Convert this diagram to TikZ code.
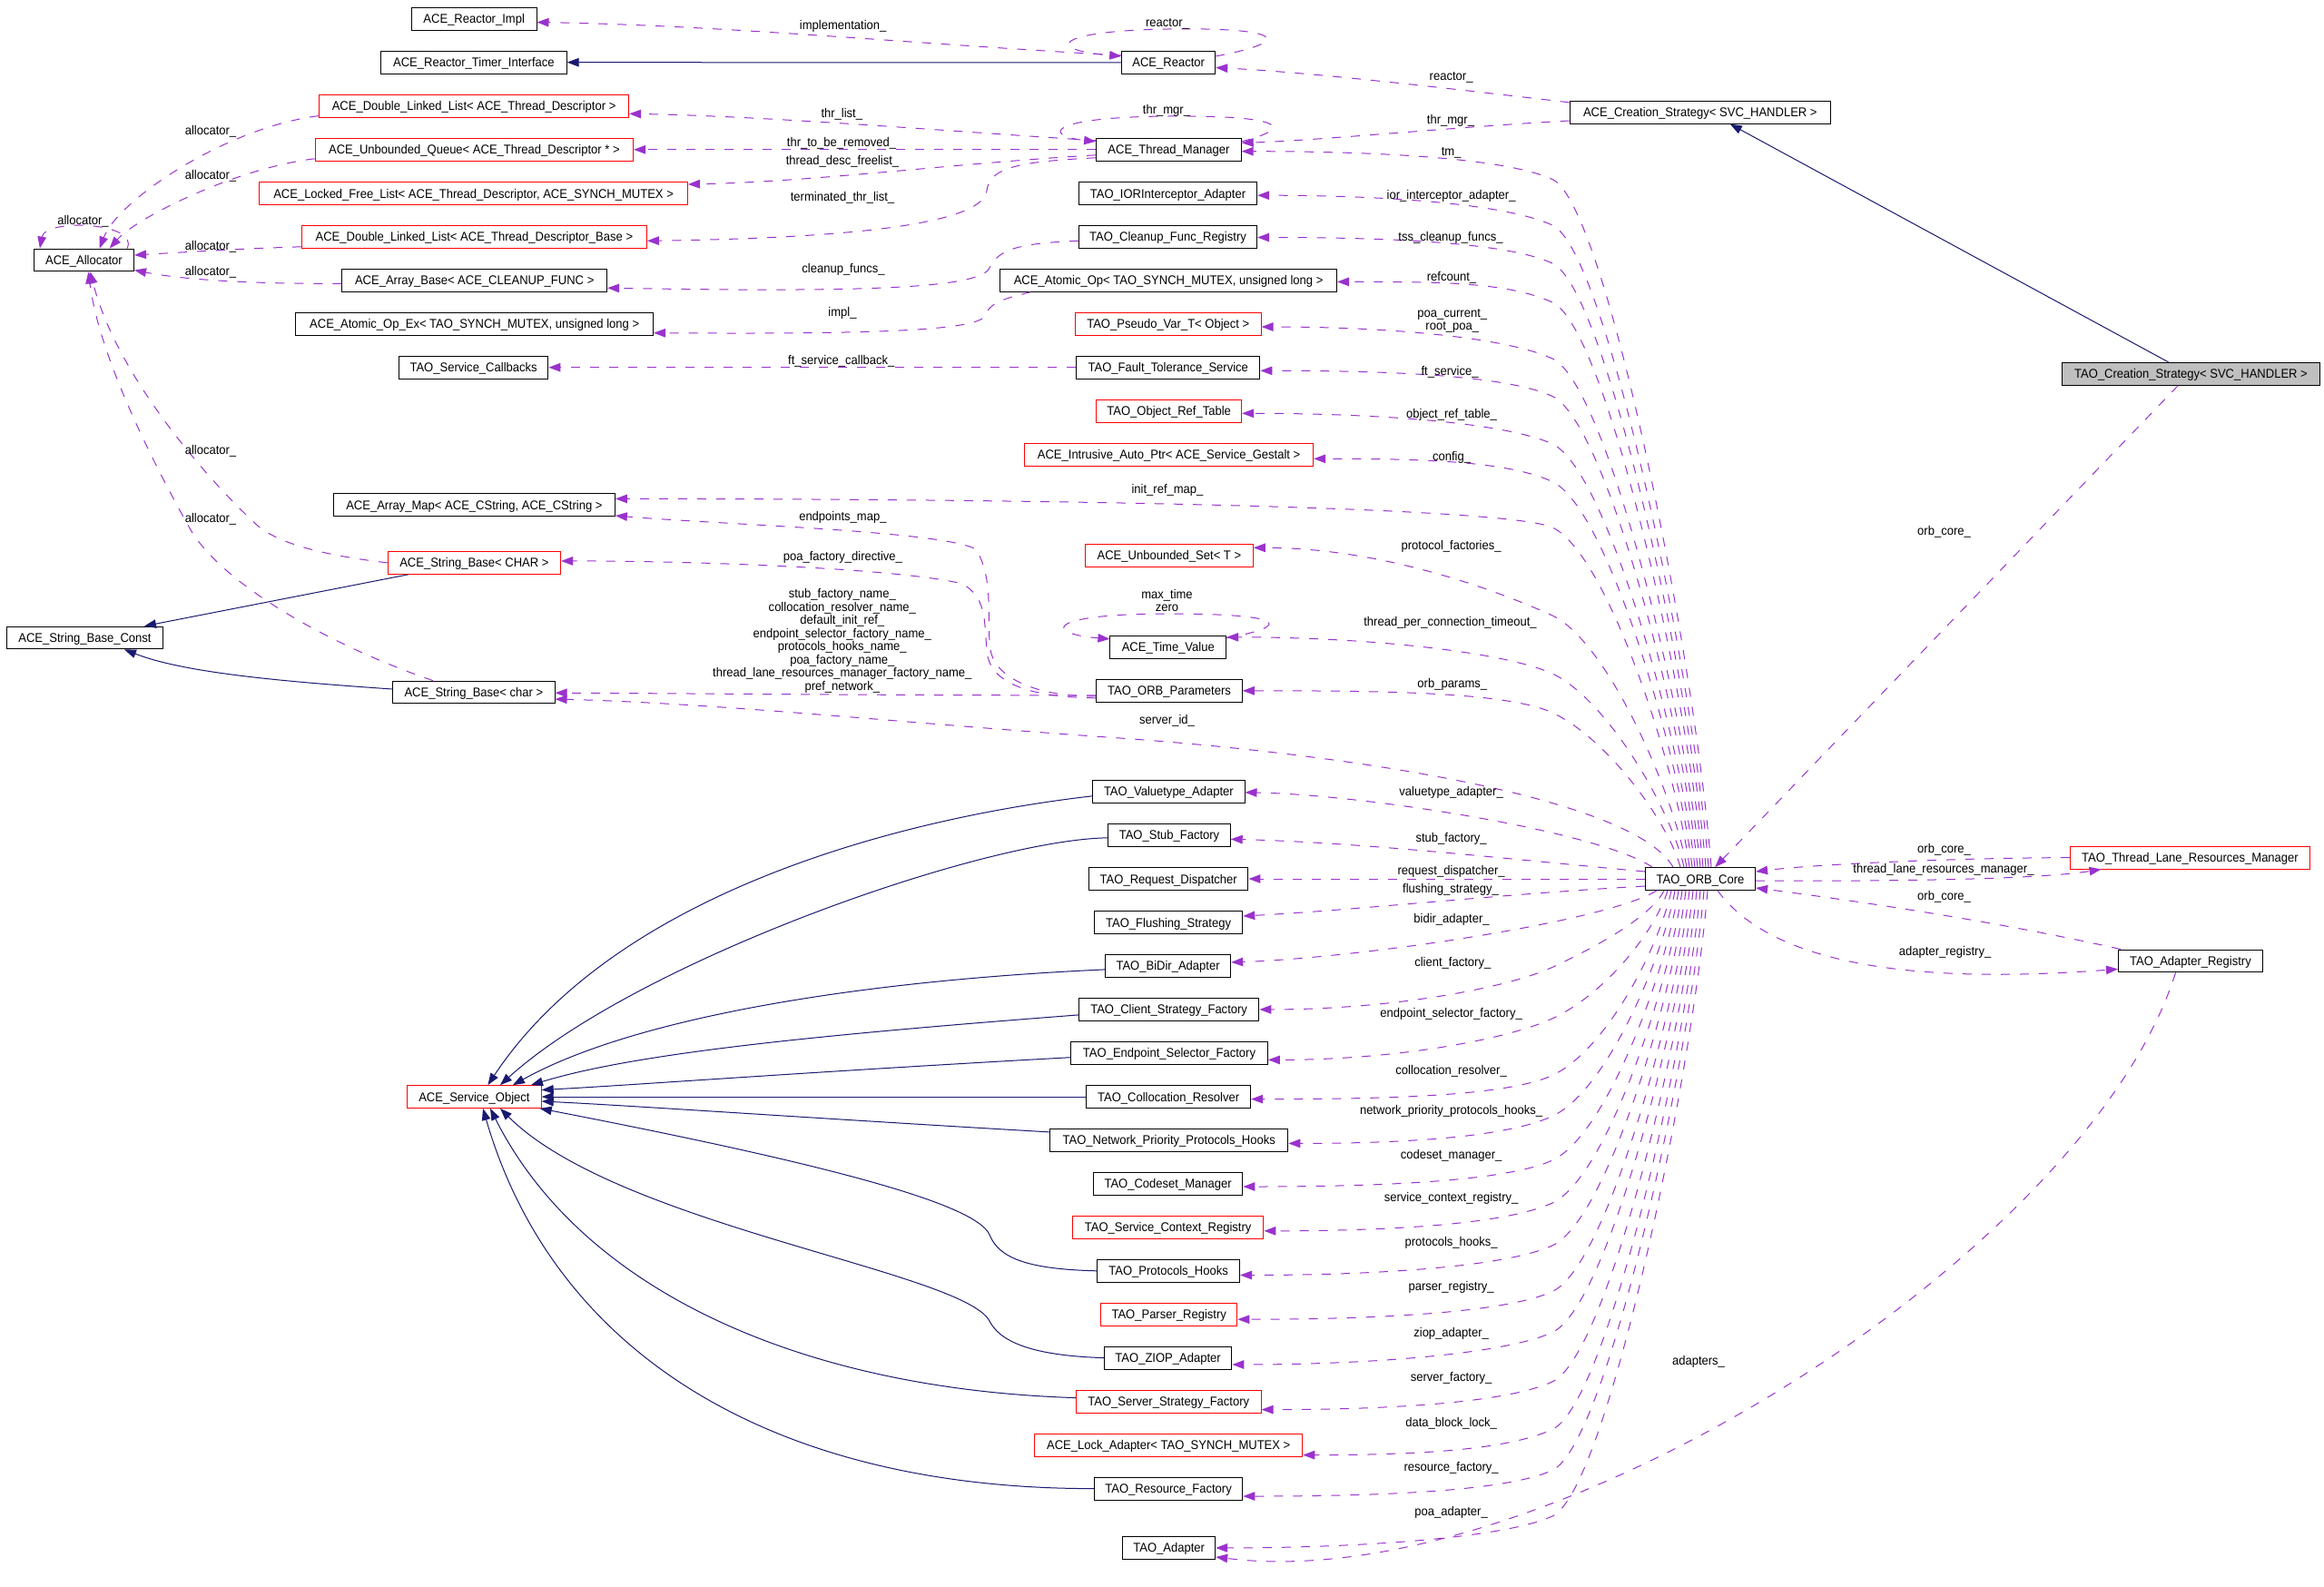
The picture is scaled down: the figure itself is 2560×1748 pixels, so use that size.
\documentclass[tikz,border=0pt]{standalone}
\usepackage{fontspec}
\setmainfont{Liberation Sans}[FakeStretch=0.93]
\usetikzlibrary{arrows.meta,calc}
\definecolor{depc}{HTML}{9A32CD}
\definecolor{inhc}{HTML}{191970}
\definecolor{grayfill}{HTML}{BFBFBF}
\newcommand\nf{\fontsize{14}{14.5}\selectfont}
% fan edge from ORB core (start #1) to target #2 (east, yshift #3) passing a bend point at x=1710, y=#4
\newcommand\fanU[4]{\draw[dep] let \p1=(#1), \p2=([yshift=#3pt]#2.east), \p3=(1710,#4) in (\p1) .. controls ({\x1-0.1*(\x1-\x3)},{\y1+0.3*(\y3-\y1)}) and ({\x3+60pt},{\y3-28pt}) .. (\p3) .. controls ({\x3-50pt},{\y3+23pt}) and ({\x2+0.45*(\x3-\x2)},{\y2}) .. (\p2);}
\newcommand\fanL[4]{\draw[dep] let \p1=(#1), \p2=([yshift=#3pt]#2.east), \p3=(1710,#4) in (\p1) .. controls ({\x1-0.1*(\x1-\x3)},{\y1+0.3*(\y3-\y1)}) and ({\x3+60pt},{\y3+28pt}) .. (\p3) .. controls ({\x3-50pt},{\y3-23pt}) and ({\x2+0.45*(\x3-\x2)},{\y2}) .. (\p2);}
\begin{document}
\begin{tikzpicture}[x=1pt,y=-1pt,
 cls/.style={draw=black, line width=1pt, fill=white, minimum height=24.8pt, inner xsep=2pt, inner ysep=0pt, font=\nf, text height=10pt, text depth=0pt},
 redc/.style={cls, draw=red},
 lab/.style={font=\nf, inner sep=0pt, align=center, text height=10pt, text depth=0pt},
 mlab/.style={font=\nf, inner sep=0pt, align=center},
 dep/.style={draw=depc, line width=1pt, dash pattern=on 10pt off 11pt, -{Triangle[length=13pt,width=9.5pt]}},
 inh/.style={draw=inhc, line width=1pt, -{Triangle[length=13pt,width=9.5pt]}}]
\useasboundingbox[fill=white] (0,0) rectangle (2560,1748);
% ---------- left column
\node[cls, minimum width=137.6pt] (rimpl) at (522.2,20.7) {ACE\_Reactor\_Impl};
\node[cls, minimum width=204.5pt] (rti) at (521.9,68.7) {ACE\_Reactor\_Timer\_Interface};
\node[redc, minimum width=341.1pt] (dll1) at (522.1,116.6) {ACE\_Double\_Linked\_List< ACE\_Thread\_Descriptor >};
\node[redc, minimum width=350.4pt] (uq) at (522.4,164.8) {ACE\_Unbounded\_Queue< ACE\_Thread\_Descriptor * >};
\node[redc, minimum width=471.7pt] (lfl) at (521.6,213) {ACE\_Locked\_Free\_List< ACE\_Thread\_Descriptor, ACE\_SYNCH\_MUTEX >};
\node[redc, minimum width=380pt] (dll2) at (522.4,260.8) {ACE\_Double\_Linked\_List< ACE\_Thread\_Descriptor\_Base >};
\node[cls, minimum width=291.8pt] (abase) at (522.7,308.9) {ACE\_Array\_Base< ACE\_CLEANUP\_FUNC >};
\node[cls, minimum width=393.8pt] (aopex) at (522.7,356.7) {ACE\_Atomic\_Op\_Ex< TAO\_SYNCH\_MUTEX, unsigned long >};
\node[cls, minimum width=164.5pt] (svccb) at (521.6,404.7) {TAO\_Service\_Callbacks};
\node[cls, minimum width=309.9pt] (amap) at (522.4,556) {ACE\_Array\_Map< ACE\_CString, ACE\_CString >};
\node[redc, minimum width=190.3pt] (sbCHAR) at (522.4,619.9) {ACE\_String\_Base< CHAR >};
\node[cls, minimum width=178.3pt] (sbchar) at (521.9,762.5) {ACE\_String\_Base< char >};
\node[redc, minimum width=147.6pt] (svcobj) at (522.4,1208) {ACE\_Service\_Object};
\node[cls, minimum width=110.2pt] (alloc) at (92.4,286.5) {ACE\_Allocator};
\node[cls, minimum width=171.6pt] (sbconst) at (93.5,702.5) {ACE\_String\_Base\_Const};
% ---------- middle column
\node[cls, minimum width=103.1pt] (reactor) at (1287.2,68.9) {ACE\_Reactor};
\node[cls, minimum width=159.6pt] (tmgr) at (1287.4,164.8) {ACE\_Thread\_Manager};
\node[cls, minimum width=196.3pt] (ior) at (1286.5,213) {TAO\_IORInterceptor\_Adapter};
\node[cls, minimum width=196.3pt] (cleanup) at (1286.5,260.8) {TAO\_Cleanup\_Func\_Registry};
\node[cls, minimum width=370.8pt] (aop) at (1287.1,308.9) {ACE\_Atomic\_Op< TAO\_SYNCH\_MUTEX, unsigned long >};
\node[redc, minimum width=204.5pt] (pseudo) at (1286.8,356.7) {TAO\_Pseudo\_Var\_T< Object >};
\node[cls, minimum width=202.3pt] (ft) at (1286.8,404.7) {TAO\_Fault\_Tolerance\_Service};
\node[redc, minimum width=160.1pt] (ort) at (1287.6,452.7) {TAO\_Object\_Ref\_Table};
\node[redc, minimum width=318.1pt] (iap) at (1287.6,500.8) {ACE\_Intrusive\_Auto\_Ptr< ACE\_Service\_Gestalt >};
\node[redc, minimum width=184.8pt] (uset) at (1287.9,611.8) {ACE\_Unbounded\_Set< T >};
\node[cls, minimum width=127.8pt] (tval) at (1286.8,712.8) {ACE\_Time\_Value};
\node[cls, minimum width=160.7pt] (orbp) at (1288,760.8) {TAO\_ORB\_Parameters};
\node[cls, minimum width=167.2pt] (vta) at (1287.4,871.8) {TAO\_Valuetype\_Adapter};
\node[cls, minimum width=134.4pt] (stub) at (1288,919.8) {TAO\_Stub\_Factory};
\node[cls, minimum width=175.5pt] (rdisp) at (1287.2,968) {TAO\_Request\_Dispatcher};
\node[cls, minimum width=163.4pt] (flush) at (1287.1,1016) {TAO\_Flushing\_Strategy};
\node[cls, minimum width=138.2pt] (bidir) at (1286.6,1063.9) {TAO\_BiDir\_Adapter};
\node[cls, minimum width=198.5pt] (csf) at (1287.6,1111.9) {TAO\_Client\_Strategy\_Factory};
\node[cls, minimum width=216.7pt] (esf) at (1288,1159.7) {TAO\_Endpoint\_Selector\_Factory};
\node[cls, minimum width=181pt] (coll) at (1287.1,1208) {TAO\_Collocation\_Resolver};
\node[cls, minimum width=262.2pt] (nph) at (1287.7,1255.9) {TAO\_Network\_Priority\_Protocols\_Hooks};
\node[cls, minimum width=164.5pt] (codeset) at (1286.6,1303.7) {TAO\_Codeset\_Manager};
\node[redc, minimum width=210.6pt] (scr) at (1286.6,1351.8) {TAO\_Service\_Context\_Registry};
\node[cls, minimum width=156.8pt] (phooks) at (1287.1,1399.8) {TAO\_Protocols\_Hooks};
\node[redc, minimum width=150.3pt] (parser) at (1287.7,1447.6) {TAO\_Parser\_Registry};
\node[cls, minimum width=140.4pt] (ziop) at (1286.6,1495.6) {TAO\_ZIOP\_Adapter};
\node[redc, minimum width=203.5pt] (ssf) at (1287.3,1543.6) {TAO\_Server\_Strategy\_Factory};
\node[redc, minimum width=295.1pt] (lock) at (1287.2,1591.6) {ACE\_Lock\_Adapter< TAO\_SYNCH\_MUTEX >};
\node[cls, minimum width=163.4pt] (rfac) at (1287.1,1639.6) {TAO\_Resource\_Factory};
\node[cls, minimum width=102pt] (adapter) at (1287.7,1704.9) {TAO\_Adapter};
% ---------- right
\node[cls, minimum width=287.5pt] (acs) at (1872.8,123.8) {ACE\_Creation\_Strategy< SVC\_HANDLER >};
\node[cls, minimum width=121.2pt] (core) at (1873,968) {TAO\_ORB\_Core};
\node[cls, fill=grayfill, minimum width=284.1pt] (tcs) at (2413.5,411.7) {TAO\_Creation\_Strategy< SVC\_HANDLER >};
\node[redc, minimum width=264.3pt] (tlrm) at (2412.5,944.6) {TAO\_Thread\_Lane\_Resources\_Manager};
\node[cls, minimum width=159pt] (areg) at (2413,1058.4) {TAO\_Adapter\_Registry};
% ---------- inheritance
\draw[inh] (reactor.west) -- (rti.east);
\draw[inh] ([xshift=-25pt]tcs.north) -- ([xshift=33pt]acs.south);
\draw[inh] ([xshift=-72.7pt]sbCHAR.south) -- ([xshift=65.5pt]sbconst.north);
\draw[inh] ([yshift=3.5pt]sbchar.west) .. controls (300,750) and (200,740) .. ([xshift=43.5pt]sbconst.south);
\draw[inh] ([yshift=-5pt]vta.west) .. controls (1000,900) and (680,980) .. ([xshift=15pt]svcobj.north);
\draw[inh] ([yshift=-3pt]stub.west) .. controls (1080,925) and (700,1060) .. ([xshift=28.6pt]svcobj.north);
\draw[inh] ([yshift=-4pt]bidir.west) .. controls (950,1080) and (700,1120) .. ([xshift=42.6pt]svcobj.north);
\draw[inh] ([yshift=-6pt]csf.west) .. controls (900,1140) and (700,1160) .. ([xshift=62.6pt]svcobj.north);
\draw[inh] ([yshift=-5pt]esf.west) .. controls (900,1180) and (700,1195) .. ([yshift=7.5pt]svcobj.east);
\draw[inh] (coll.west) -- (svcobj.east);
\draw[inh] ([yshift=9pt]nph.west) .. controls (900,1232) and (700,1218) .. ([yshift=-5pt]svcobj.east);
\draw[inh] (phooks.west) .. controls (1130,1398) and (1100,1385) .. (1090,1360) .. controls (1075,1325) and (900,1280) .. ([xshift=-2pt]svcobj.south east);
\draw[inh] (ziop.west) .. controls (1130,1493) and (1100,1475) .. (1090,1455) .. controls (1060,1400) and (680,1350) .. ([xshift=28.6pt]svcobj.south);
\draw[inh] ([yshift=4pt]ssf.west) .. controls (880,1530) and (640,1420) .. ([xshift=17.6pt]svcobj.south);
\draw[inh] (rfac.west) .. controls (850,1640) and (610,1490) .. ([xshift=9.6pt]svcobj.south);
% ---------- usage: top area
\draw[dep] ([yshift=7.9pt]reactor.west) .. controls (1000,48) and (800,28) .. ([yshift=-3.8pt]rimpl.east);
\draw[dep] ([yshift=7pt]reactor.east) .. controls (1430,45) and (1410,30) .. (1287,32) .. controls (1160,34) and (1150,55) .. ([yshift=7pt]reactor.west);
\draw[dep] ([yshift=11pt]acs.west) .. controls (1600,98) and (1450,80) .. ([yshift=-5.6pt]reactor.east);
\draw[dep] ([yshift=-9.2pt]acs.west) .. controls (1600,140) and (1450,155) .. ([yshift=7.5pt]tmgr.east);
\draw[dep] ([yshift=9pt]tmgr.east) .. controls (1430,140) and (1410,127) .. (1287,128) .. controls (1150,129) and (1150,150) .. ([yshift=9pt]tmgr.west);
\draw[dep] ([yshift=10pt]tmgr.west) .. controls (1050,145) and (850,128) .. ([yshift=-8.7pt]dll1.east);
\draw[dep] (tmgr.west) -- (uq.east);
\draw[dep] ([yshift=-6pt]tmgr.west) .. controls (1050,180) and (900,200) .. ([yshift=10pt]lfl.east);
\draw[dep] ([yshift=-9pt]tmgr.west) .. controls (1120,178) and (1090,185) .. (1087,210) .. controls (1083,245) and (950,262) .. ([yshift=-4.5pt]dll2.east);
\draw[dep] ([yshift=-4.5pt]cleanup.west) .. controls (1120,268) and (1100,275) .. (1090,295) .. controls (1080,318) and (950,322) .. ([yshift=-8.3pt]abase.east);
\draw[dep] ([xshift=-152pt]aop.south) .. controls (1100,330) and (1090,335) .. (1085,348) .. controls (1075,365) and (950,368) .. ([yshift=-10pt]aopex.east);
\draw[dep] (ft.west) -- (svccb.east);
% allocator
\draw[dep] ([yshift=-11pt]dll1.west) .. controls (250,140) and (130,220) .. ([xshift=17.3pt]alloc.north);
\draw[dep] ([yshift=-10pt]uq.west) .. controls (260,185) and (150,240) .. ([xshift=28.3pt]alloc.north);
\draw[dep] ([xshift=47.5pt]alloc.north) .. controls (155,245) and (50,240) .. ([xshift=-48.5pt]alloc.north);
\draw[dep] ([yshift=-11pt]dll2.west) .. controls (260,274) and (200,278) .. ([yshift=5.5pt]alloc.east);
\draw[dep] ([yshift=-3.4pt]abase.west) .. controls (280,313) and (200,308) .. ([yshift=-11pt]alloc.east);
\draw[dep] (sbCHAR.west) .. controls (360,612) and (310,600) .. (285,580) .. controls (240,540) and (130,420) .. ([xshift=7pt]alloc.south);
\draw[dep] ([xshift=-45pt]sbchar.north) .. controls (360,710) and (240,640) .. (208,580) .. controls (180,530) and (110,400) .. ([xshift=5pt]alloc.south);
% orb parameters
\draw[dep] ([yshift=-6pt]orbp.west) .. controls (1150,768) and (1100,750) .. (1092,720) .. controls (1085,690) and (1097,640) .. (1075,605) .. controls (1040,585) and (800,578) .. ([yshift=-12pt]amap.east);
\draw[dep] ([yshift=-8pt]orbp.west) .. controls (1140,768) and (1095,755) .. (1088,723) .. controls (1083,690) and (1090,660) .. (1060,643) .. controls (1000,628) and (800,618) .. ([yshift=2pt]sbCHAR.east);
\draw[dep] ([yshift=-5pt]orbp.west) .. controls (1000,766) and (800,764) .. ([yshift=-0.7pt]sbchar.east);
\draw[dep] ([yshift=10pt]tval.east) .. controls (1430,688) and (1410,676) .. (1287,676) .. controls (1150,676) and (1150,698) .. ([yshift=9pt]tval.west);
% ---------- ORB core fan
\fanU{[xshift=12pt]core.north}{tmgr}{-1.9}{197.5}
\fanU{[xshift=9pt]core.north}{ior}{-2.2}{248}
\fanU{[xshift=6pt]core.north}{cleanup}{-0.7}{290}
\fanU{[xshift=3pt]core.north}{aop}{-1.5}{333}
\fanU{core.north}{pseudo}{-3.3}{395}
\fanU{[xshift=-3pt]core.north}{ft}{-3.6}{436.5}
\fanU{[xshift=-6pt]core.north}{ort}{-2.6}{489}
\fanU{[xshift=-9pt]core.north}{iap}{-4.5}{530.5}
\fanU{[xshift=-12pt]core.north}{amap}{6.6}{581}
\fanU{[xshift=-15pt]core.north}{uset}{8.5}{678}
\fanU{[xshift=-18pt]core.north}{tval}{11}{742}
\fanU{[xshift=-22pt]core.north}{orbp}{0}{785}
\draw[dep] ([xshift=-30pt]core.north) .. controls (1800,880) and (1500,832) .. (1234,813) .. controls (1000,797) and (800,775) .. ([yshift=-7.5pt]sbchar.east);
\draw[dep] ([xshift=-53pt]core.north) .. controls (1760,915) and (1500,875) .. ([yshift=-1pt]vta.east);
\draw[dep] ([yshift=8pt]core.west) .. controls (1650,945) and (1500,928) .. ([yshift=-4.5pt]stub.east);
\draw[dep] (core.west) -- (rdisp.east);
\draw[dep] ([yshift=-8pt]core.west) .. controls (1650,985) and (1500,1002) .. ([yshift=7pt]flush.east);
\draw[dep] ([xshift=-48pt]core.south) .. controls (1770,1015) and (1500,1055) .. ([yshift=4pt]bidir.east);
\fanL{[xshift=-40pt]core.south}{csf}{0}{1065.4}
\fanL{[xshift=-36pt]core.south}{esf}{-7.7}{1121.9}
\fanL{[xshift=-32pt]core.south}{coll}{-2.6}{1184.4}
\fanL{[xshift=-28pt]core.south}{nph}{-3.5}{1229.4}
\fanL{[xshift=-24pt]core.south}{codeset}{-3.3}{1278}
\fanL{[xshift=-20pt]core.south}{scr}{-4}{1325}
\fanL{[xshift=-16pt]core.south}{phooks}{-4.7}{1371.9}
\fanL{[xshift=-12pt]core.south}{parser}{-5.6}{1422.5}
\fanL{[xshift=-8pt]core.south}{ziop}{-7.4}{1467.5}
\fanL{[xshift=-4pt]core.south}{ssf}{-9}{1521.9}
\fanL{core.south}{lock}{-11}{1574.4}
\fanL{[xshift=4pt]core.south}{rfac}{-8.4}{1619.4}
\fanL{[xshift=8pt]core.south}{adapter}{0}{1670}
% ---------- right side
\draw[dep] ([xshift=-14.2pt]tcs.south) -- ([xshift=16.2pt]core.north);
\draw[dep] (tlrm.west) .. controls (2150,945) and (2000,952) .. ([yshift=8pt]core.east);
\draw[dep] ([yshift=-2pt]core.east) .. controls (2100,971) and (2250,968) .. ([xshift=-98pt]tlrm.south);
\draw[dep] ([xshift=-77pt]areg.north) .. controls (2200,1015) and (2050,993) .. ([yshift=-10pt]core.east);
\draw[dep] ([xshift=19pt]core.south) .. controls (1950,1060) and (2100,1085) .. ([yshift=-9pt]areg.west);
\draw[dep] ([xshift=-16.5pt]areg.south) .. controls (2300,1380) and (1700,1760) .. ([yshift=-10pt]adapter.east);
% ---------- labels
\node[lab] (l1) at (928.7,27.5) {implementation\_};
\node[lab] (l2) at (1286,24.8) {reactor\_};
\node[lab] (l3) at (1598.6,83.5) {reactor\_};
\node[lab] (l4) at (927.3,124.2) {thr\_list\_};
\node[lab] (l5) at (1285,120.4) {thr\_mgr\_};
\node[lab] (l6) at (1598,131) {thr\_mgr\_};
\node[lab] (l7) at (927,156.2) {thr\_to\_be\_removed\_};
\node[lab] (l8) at (928,176.1) {thread\_desc\_freelist\_};
\node[lab] (l9) at (1598.6,166) {tm\_};
\node[lab] (l10) at (928,216.4) {terminated\_thr\_list\_};
\node[lab] (l11) at (1598.6,214.5) {ior\_interceptor\_adapter\_};
\node[lab] (l12) at (1598,260.4) {tss\_cleanup\_funcs\_};
\node[lab] (l13) at (929,295.4) {cleanup\_funcs\_};
\node[lab] (l14) at (1599,304.8) {refcount\_};
\node[lab] (l15) at (928,343.2) {impl\_};
\node[mlab] (l16) at (1599.8,353.3) {poa\_current\_\\root\_poa\_};
\node[lab] (l17) at (926.8,396.2) {ft\_service\_callback\_};
\node[lab] (l18) at (1597,408.3) {ft\_service\_};
\node[lab] (l19) at (1599,455.3) {object\_ref\_table\_};
\node[lab] (l20) at (1599,502.3) {config\_};
\node[lab] (l21) at (1286,538.1) {init\_ref\_map\_};
\node[lab] (l22) at (928.4,568.2) {endpoints\_map\_};
\node[lab] (l23) at (928.4,612.7) {poa\_factory\_directive\_};
\node[mlab] (l24) at (927.8,705.8) {stub\_factory\_name\_\\collocation\_resolver\_name\_\\default\_init\_ref\_\\endpoint\_selector\_factory\_name\_\\protocols\_hooks\_name\_\\poa\_factory\_name\_\\thread\_lane\_resources\_manager\_factory\_name\_\\pref\_network\_};
\node[mlab] (l25) at (1285.5,661.6) {max\_time\\zero};
\node[lab] (l26) at (1598.6,600.7) {protocol\_factories\_};
\node[lab] (l27) at (1597.5,684.6) {thread\_per\_connection\_timeout\_};
\node[lab] (l28) at (1599.8,752) {orb\_params\_};
\node[lab] (l29) at (1285.5,792.6) {server\_id\_};
\node[lab] (l30) at (1598.6,871.6) {valuetype\_adapter\_};
\node[lab] (l31) at (1598.6,922.4) {stub\_factory\_};
\node[lab] (l32) at (1598.6,958.2) {request\_dispatcher\_};
\node[lab] (l33) at (1598,978.1) {flushing\_strategy\_};
\node[lab] (l34) at (1599,1011.6) {bidir\_adapter\_};
\node[lab] (l35) at (1600.3,1059.4) {client\_factory\_};
\node[lab] (l36) at (1598.6,1115.4) {endpoint\_selector\_factory\_};
\node[lab] (l37) at (1598.6,1178.8) {collocation\_resolver\_};
\node[lab] (l38) at (1598.6,1222.6) {network\_priority\_protocols\_hooks\_};
\node[lab] (l39) at (1598.6,1271) {codeset\_manager\_};
\node[lab] (l40) at (1598.6,1318.6) {service\_context\_registry\_};
\node[lab] (l41) at (1598.6,1367.4) {protocols\_hooks\_};
\node[lab] (l42) at (1598.6,1416.9) {parser\_registry\_};
\node[lab] (l43) at (1598.6,1467.5) {ziop\_adapter\_};
\node[lab] (l44) at (1598.6,1516.6) {server\_factory\_};
\node[lab] (l45) at (1598.6,1566.1) {data\_block\_lock\_};
\node[lab] (l46) at (1598.6,1615.6) {resource\_factory\_};
\node[lab] (l47) at (1598.6,1664.4) {poa\_adapter\_};
\node[lab] (l48) at (2141.5,584.4) {orb\_core\_};
\node[lab] (l49) at (2141.5,934.5) {orb\_core\_};
\node[lab] (l50) at (2141,956.3) {thread\_lane\_resources\_manager\_};
\node[lab] (l51) at (2141.5,986.4) {orb\_core\_};
\node[lab] (l52) at (2142.6,1047.7) {adapter\_registry\_};
\node[lab] (l53) at (1871,1498.6) {adapters\_};
\node[lab] (a1) at (232,143.4) {allocator\_};
\node[lab] (a2) at (232,192.3) {allocator\_};
\node[lab] (a3) at (91.5,242.7) {allocator\_};
\node[lab] (a4) at (232,270.2) {allocator\_};
\node[lab] (a5) at (232,298.4) {allocator\_};
\node[lab] (a6) at (232,495.2) {allocator\_};
\node[lab] (a7) at (232,570.4) {allocator\_};
\end{tikzpicture}
\end{document}
